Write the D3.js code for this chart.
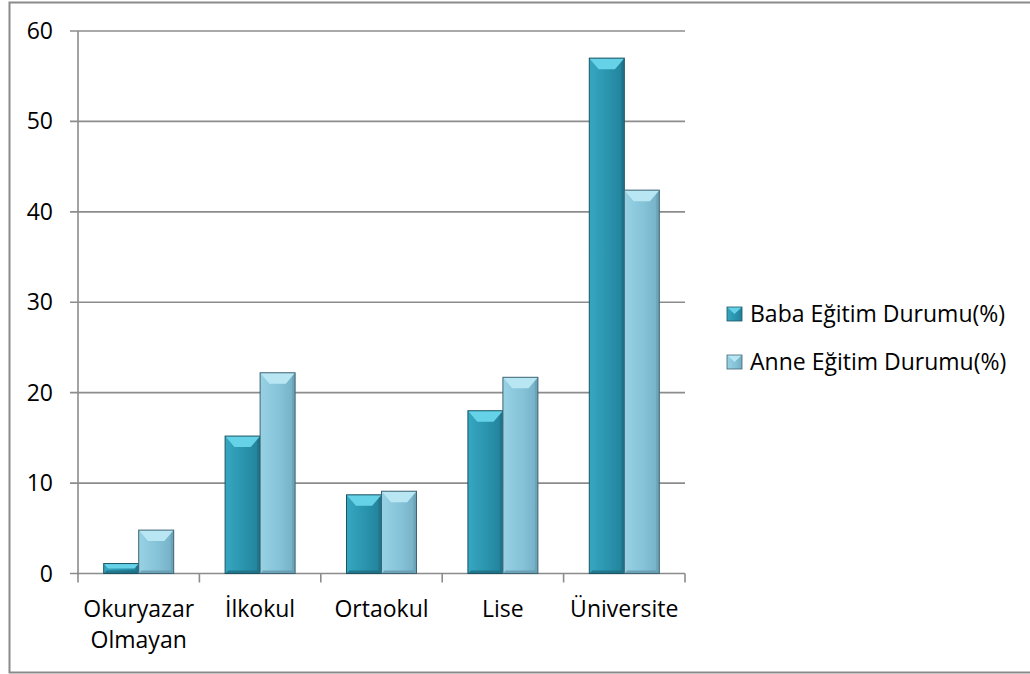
<!DOCTYPE html>
<meta charset="utf-8">
<head>
<title>Eğitim Durumu</title>
<script src="https://d3js.org/d3.v7.min.js"></script>
<style>
  body { margin: 0; background: #fff; }
  text { font-family: "Open Sans", sans-serif; fill: #000; }
</style>
</head>
<body>
<div id="my_dataviz"></div>
<script>

// data
var categories = ["Okuryazar Olmayan", "İlkokul", "Ortaokul", "Lise", "Üniversite"];
var seriesNames = ["Baba Eğitim Durumu(%)", "Anne Eğitim Durumu(%)"];
var babaValues = [1.1, 15.2, 8.7, 18.0, 57.0];
var anneValues = [4.8, 22.2, 9.1, 21.7, 42.4];
var yTicks = [0, 10, 20, 30, 40, 50, 60];

// colours for each series: body, top bevel, sides, dark edge
var palette = [
  {id: "gBaba", light: "#36a7c1", body: "#2a93ad", dark: "#22819a", top: "#66d2e8", bottom: "#1d6d80", stroke: "#1b5563"},
  {id: "gAnne", light: "#97d1e4", body: "#86c3d8", dark: "#74afc4", top: "#b8e7f3", bottom: "#6499ad", stroke: "#3f6574"}
];

var W = 1030, H = 674;
var plot = {left: 78, right: 685, top: 31, bottom: 573.5};

var svg = d3.select("#my_dataviz")
  .append("svg")
  .attr("width", W)
  .attr("height", H);

// horizontal gradients for the bar faces
var defs = svg.append("defs");
palette.forEach(function(p) {
  var g = defs.append("linearGradient").attr("id", p.id)
    .attr("x1", "0").attr("x2", "1").attr("y1", "0").attr("y2", "0");
  g.append("stop").attr("offset", "0%").attr("stop-color", p.light);
  g.append("stop").attr("offset", "55%").attr("stop-color", p.body);
  g.append("stop").attr("offset", "100%").attr("stop-color", p.dark);
});

// outer chart border
svg.append("rect")
  .attr("x", 9.5).attr("y", 2.5)
  .attr("width", 1040).attr("height", 670)
  .attr("fill", "#fff")
  .attr("stroke", "#8a8a8a")
  .attr("stroke-width", 2);

var x = d3.scaleBand()
  .domain(categories)
  .range([plot.left, plot.right])
  .paddingInner(0)
  .paddingOuter(0);

var y = d3.scaleLinear()
  .domain([0, 60])
  .range([plot.bottom, plot.top]);

// grid lines
svg.append("g")
  .selectAll("line")
  .data(yTicks)
  .enter()
  .append("line")
  .attr("x1", plot.left - 8)
  .attr("x2", plot.right)
  .attr("y1", function(d) { return y(d); })
  .attr("y2", function(d) { return y(d); })
  .attr("stroke", "#8c8c8c")
  .attr("stroke-width", 1.6);

// y axis line
svg.append("line")
  .attr("x1", plot.left).attr("x2", plot.left)
  .attr("y1", plot.top).attr("y2", plot.bottom + 1)
  .attr("stroke", "#8c8c8c")
  .attr("stroke-width", 1.6);

// category ticks
var tickPos = categories.map(function(c) { return x(c); }).concat([plot.right]);
svg.append("g")
  .selectAll("line")
  .data(tickPos)
  .enter()
  .append("line")
  .attr("x1", function(d) { return d; })
  .attr("x2", function(d) { return d; })
  .attr("y1", plot.bottom)
  .attr("y2", plot.bottom + 9)
  .attr("stroke", "#8c8c8c")
  .attr("stroke-width", 1.6);

// y tick labels
svg.append("g")
  .selectAll("text")
  .data(yTicks)
  .enter()
  .append("text")
  .attr("x", 53)
  .attr("y", function(d) { return y(d) + 8; })
  .attr("text-anchor", "end")
  .style("font-size", "23px")
  .text(function(d) { return d; });

// category labels (wrap on space for the first one)
var catLabels = svg.append("g")
  .selectAll("text")
  .data(categories)
  .enter()
  .append("text")
  .attr("text-anchor", "middle")
  .style("font-size", "23px");
catLabels.each(function(d) {
  var words = d.split(" ");
  var t = d3.select(this);
  words.forEach(function(w, i) {
    t.append("tspan")
      .attr("x", x(d) + x.bandwidth() / 2)
      .attr("y", 617 + i * 31)
      .text(w);
  });
});

// bars with a bevelled look
var barW = 35;
var groupW = barW * 2;

function drawBar(g, x0, v, p) {
  var x1 = x0 + barW;
  var y0 = y(v), y1 = y(0);
  var b = Math.min(11, (y1 - y0) / 2);
  var s = Math.min(3, (y1 - y0) / 3);
  var bar = g.append("g");
  bar.append("rect")
    .attr("x", x0).attr("y", y0)
    .attr("width", barW).attr("height", y1 - y0)
    .attr("fill", "url(#" + p.id + ")");
  // bottom facet
  bar.append("polygon")
    .attr("points", [[x0, y1], [x0 + s, y1 - s], [x1 - s, y1 - s], [x1, y1]].join(" "))
    .attr("fill", p.bottom)
    .attr("opacity", 0.8);
  // right edge shade
  bar.append("polygon")
    .attr("points", [[x1, y0], [x1 - s, y0 + s], [x1 - s, y1 - s], [x1, y1]].join(" "))
    .attr("fill", p.bottom)
    .attr("opacity", 0.6);
  // top facet
  bar.append("polygon")
    .attr("points", [[x0, y0], [x1, y0], [x1 - b * 0.85, y0 + b], [x0 + b * 0.85, y0 + b]].join(" "))
    .attr("fill", p.top);
  bar.append("rect")
    .attr("x", x0).attr("y", y0)
    .attr("width", barW).attr("height", y1 - y0)
    .attr("fill", "none")
    .attr("stroke", p.stroke)
    .attr("stroke-width", 1);
}

var barsG = svg.append("g");
[babaValues, anneValues].forEach(function(vals, s) {
  vals.forEach(function(v, i) {
    var gx = x(categories[i]) + x.bandwidth() / 2 - groupW / 2;
    drawBar(barsG, gx + s * barW, v, palette[s]);
  });
});

// legend
var legend = svg.append("g");
seriesNames.forEach(function(name, i) {
  var ly = 307 + i * 48;
  var p = palette[i];
  var m = legend.append("g");
  m.append("rect").attr("x", 727).attr("y", ly).attr("width", 15).attr("height", 14).attr("fill", "url(#" + p.id + ")");
  m.append("polygon")
    .attr("points", [[727, ly], [742, ly], [734.5, ly + 7]].join(" "))
    .attr("fill", p.top);
  m.append("rect").attr("x", 727).attr("y", ly).attr("width", 15).attr("height", 14)
    .attr("fill", "none").attr("stroke", p.stroke).attr("stroke-width", 0.8);
  legend.append("text")
    .attr("x", 750)
    .attr("y", ly + 15)
    .style("font-size", "23px")
    .text(name);
});

</script>
</body>
